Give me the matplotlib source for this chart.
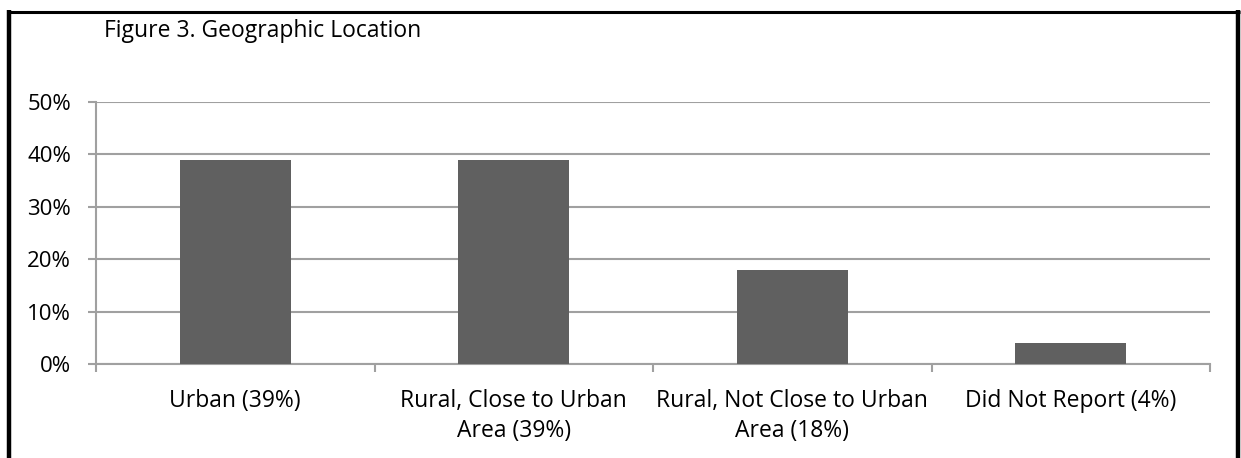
import matplotlib.pyplot as plt
from matplotlib.lines import Line2D
from matplotlib.ticker import FuncFormatter, FixedLocator

categories = ["Urban (39%)", "Rural, Close to Urban\nArea (39%)",
              "Rural, Not Close to Urban\nArea (18%)", "Did Not Report (4%)"]
shares = [39, 39, 18, 4]
yticks = [0, 10, 20, 30, 40, 50]

plt.rcParams['font.family'] = ['Open Sans', 'DejaVu Sans']

W, H = 1241, 458
fig = plt.figure(figsize=(W / 100, H / 100), dpi=100)

# plot area in pixel terms
left, right, top, bottom = 96, 1210, 102, 364
ax = fig.add_axes((left / W, 1 - bottom / H, (right - left) / W, (bottom - top) / H))

grid_col = "#a0a0a0"
xs = range(len(categories))
ax.bar(xs, shares, width=0.4, color="#606060", zorder=3)
ax.set_xlim(-0.5, len(categories) - 0.5)
ax.set_ylim(0, 50)
ax.set_yticks(yticks)
ax.yaxis.set_major_formatter(FuncFormatter(lambda v, p: f"{v:.0f}%"))
ax.yaxis.grid(True, color=grid_col, linewidth=1.5, zorder=0)
ax.tick_params(axis="y", length=6, width=1.5, color=grid_col, labelsize=16, pad=12, labelcolor="black")

# category labels at centres, tick marks at boundaries
ax.set_xticks(list(xs))
ax.set_xticklabels(categories, fontsize=16.5, linespacing=1.35)
ax.tick_params(axis="x", length=0, pad=18)
ax.xaxis.set_minor_locator(FixedLocator([i - 0.5 for i in range(len(categories) + 1)]))
ax.tick_params(axis="x", which="minor", length=6, width=1.5, color=grid_col)

for side in ("top", "right"):
    ax.spines[side].set_visible(False)
for side in ("left", "bottom"):
    ax.spines[side].set_color(grid_col)
    ax.spines[side].set_linewidth(1.5)

fig.text(104 / W, 1 - 31 / H, "Figure 3. Geographic Location", fontsize=16.5, va="center", ha="left")

# outer frame (left, top, right)
frame = dict(color="black", transform=fig.transFigure, solid_capstyle="butt")
fig.add_artist(Line2D([9 / W, 9 / W], [0, 1 - 10 / H], linewidth=3.2, **frame))
fig.add_artist(Line2D([7 / W, 1240 / W], [1 - 11.5 / H, 1 - 11.5 / H], linewidth=2.2, **frame))
fig.add_artist(Line2D([1238 / W, 1238 / W], [0, 1 - 10 / H], linewidth=3.2, **frame))

fig.savefig("out.png", dpi=100)
